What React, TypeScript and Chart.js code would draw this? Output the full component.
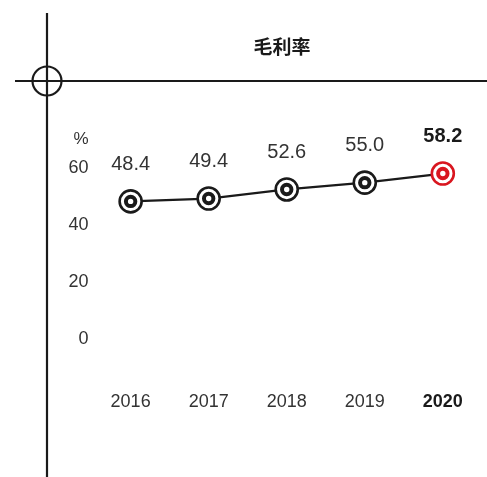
import React, { useEffect, useRef } from "react";
import { Chart, registerables } from "chart.js";

Chart.register(...registerables);

const categories = ["2016", "2017", "2018", "2019", "2020"];
const values = [48.4, 49.4, 52.6, 55.0, 58.2];
const valueLabels = ["48.4", "49.4", "52.6", "55.0", "58.2"];
const yTicks = [0, 20, 40, 60];
const title = "毛利率";
const unit = "%";

const FONT = "'Liberation Sans', Arial, Helvetica, sans-serif";
const DARK = "#1a1a1a";
const RED = "#d9161f";
const TEXT = "#333333";

const decorPlugin = {
  id: "decor",
  beforeDraw(chart: any) {
    const ctx = chart.ctx;
    ctx.save();
    ctx.strokeStyle = DARK;
    ctx.lineWidth = 2.2;
    ctx.beginPath();
    ctx.moveTo(47, 13);
    ctx.lineTo(47, 477);
    ctx.stroke();
    ctx.beginPath();
    ctx.moveTo(15, 81);
    ctx.lineTo(487, 81);
    ctx.stroke();
    ctx.beginPath();
    ctx.arc(47, 81, 14.5, 0, Math.PI * 2);
    ctx.stroke();
    ctx.fillStyle = DARK;
    ctx.font = `bold 19px 'Noto Sans CJK SC', sans-serif`;
    ctx.textAlign = "center";
    ctx.textBaseline = "middle";
    ctx.fillText(title, 282, 47);
    const yScale = chart.scales.y;
    ctx.fillStyle = TEXT;
    ctx.font = `17px ${FONT}`;
    ctx.textAlign = "right";
    ctx.fillText(unit, yScale.right - 3, 139);
    ctx.restore();
  },
  afterDatasetsDraw(chart: any) {
    const ctx = chart.ctx;
    const meta = chart.getDatasetMeta(0);
    ctx.save();
    meta.data.forEach((pt: any, i: number) => {
      const last = i === meta.data.length - 1;
      const col = last ? RED : DARK;
      const { x, y } = pt;
      ctx.fillStyle = "#ffffff";
      ctx.beginPath();
      ctx.arc(x, y, 11, 0, Math.PI * 2);
      ctx.fill();
      ctx.strokeStyle = col;
      ctx.lineWidth = 2.6;
      ctx.stroke();
      ctx.beginPath();
      ctx.arc(x, y, 4.7, 0, Math.PI * 2);
      ctx.lineWidth = 4;
      ctx.stroke();
      ctx.fillStyle = last ? DARK : TEXT;
      ctx.font = `${last ? "bold " : ""}20px ${FONT}`;
      ctx.textAlign = "center";
      ctx.textBaseline = "middle";
      ctx.fillText(valueLabels[i], x, y - 37);
    });
    ctx.restore();
  },
};

export default function App() {
  const ref = useRef<HTMLCanvasElement>(null);
  useEffect(() => {
    if (!ref.current) return;
    const chart = new Chart(ref.current, {
      type: "line",
      data: {
        labels: categories,
        datasets: [
          {
            data: values,
            borderColor: DARK,
            borderWidth: 2.2,
            pointRadius: 0,
            tension: 0,
          },
        ],
      },
      options: {
        animation: false,
        responsive: false,
        maintainAspectRatio: false,
        layout: { padding: { top: 140, right: 1.6, left: 0, bottom: 40 } },
        plugins: {
          legend: { display: false },
          tooltip: { enabled: false },
          title: { display: false },
        },
        scales: {
          x: {
            offset: true,
            grid: { display: false, drawTicks: false },
            border: { display: false },
            ticks: {
              padding: 24,
              color: (c: any) => (c.index === categories.length - 1 ? DARK : TEXT),
              font: (c: any) => ({
                family: FONT,
                size: 18,
                weight: c.index === categories.length - 1 ? "bold" : "normal",
              }),
            },
          },
          y: {
            min: -10,
            max: 70,
            grid: { display: false, drawTicks: false },
            border: { display: false },
            afterFit: (s: any) => {
              s.width = 91.6;
            },
            afterBuildTicks: (s: any) => {
              s.ticks = yTicks.map((v) => ({ value: v }));
            },
            ticks: {
              padding: 3,
              color: TEXT,
              font: { family: FONT, size: 18 },
            },
          },
        },
      },
      plugins: [decorPlugin],
    });
    return () => chart.destroy();
  }, []);
  return (
    <div style={{ position: "absolute", left: 0, top: 0, width: 487, height: 477 }}>
      <canvas ref={ref} width={487} height={477} style={{ display: "block" }} />
    </div>
  );
}
